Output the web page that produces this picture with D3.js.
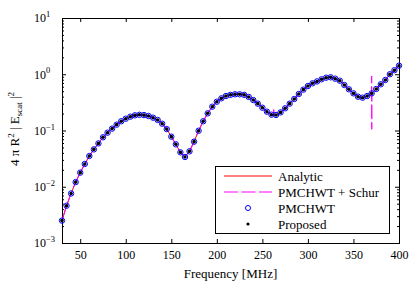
<!DOCTYPE html>
<html>
<head>
<meta charset="utf-8">
<script src="https://cdn.jsdelivr.net/npm/d3@7"></script>
<style>
  body { margin: 0; background: #fff; }
  text { font-family: "Liberation Serif", "Times New Roman", serif; fill: #000; }
</style>
</head>
<body>
<div id="chart"></div>
<script>
// frequency grid (MHz) where the solvers were sampled
const freq = [30, 35, 40, 45, 50, 55, 60, 65, 70, 75, 80, 85, 90, 95, 100, 105, 110, 115, 120,
  125, 130, 135, 140, 145, 150, 155, 160, 165, 170, 175, 180, 185, 190, 195, 200, 205, 210,
  215, 220, 225, 230, 235, 240, 245, 250, 255, 260, 265, 270, 275, 280, 285, 290, 295, 300,
  305, 310, 315, 320, 325, 330, 335, 340, 345, 350, 355, 360, 365, 370, 375, 380, 385, 390,
  395, 400];

// 4 pi R^2 |E_scat|^2 (all methods sit on top of each other)
const scatValues = [0.0025, 0.0046, 0.0076, 0.0121, 0.0178, 0.0254, 0.0352, 0.0462, 0.059, 0.0757,
  0.0914, 0.108, 0.127, 0.146, 0.162, 0.176, 0.186, 0.19, 0.188,
  0.181, 0.169, 0.154, 0.132, 0.106, 0.0777, 0.0568, 0.0409, 0.0338, 0.0427, 0.0633, 0.099,
  0.146, 0.202, 0.265, 0.325, 0.373, 0.41,
  0.43, 0.44, 0.44, 0.43, 0.395, 0.348, 0.30, 0.254, 0.216, 0.191, 0.189, 0.21, 0.248, 0.30,
  0.363, 0.446, 0.532, 0.618,
  0.69, 0.745, 0.813, 0.869, 0.883, 0.834, 0.768, 0.644, 0.54, 0.458, 0.399, 0.383, 0.41,
  0.458, 0.547, 0.663, 0.791, 1.0, 1.18, 1.42];

// PMCHWT + Schur deviates from the others only at a couple of resonances
const schurSpikes = [[262.4, 0.19], [262.5, 0.235], [262.6, 0.19],
  [369.9, 0.455], [370, 0.93], [370.1, 0.105], [370.2, 0.462]];

const xTicks = [50, 100, 150, 200, 250, 300, 350, 400];
const yTicks = [1e-3, 1e-2, 1e-1, 1, 10];
const yExponents = ["\u22123", "\u22122", "\u22121", "0", "1"];
const legendLabels = ["Analytic", "PMCHWT + Schur", "PMCHWT", "Proposed"];

const W = 415, H = 286;
const margin = { top: 18, right: 16, bottom: 43, left: 62 };
const width = W - margin.left - margin.right;
const height = H - margin.top - margin.bottom;

const svg = d3.select("#chart").append("svg")
  .attr("width", W)
  .attr("height", H);

const x = d3.scaleLinear().domain([30, 400]).range([0, width]);
const y = d3.scaleLog().domain([1e-3, 10]).range([height, 0]);

const g = svg.append("g")
  .attr("transform", `translate(${margin.left},${margin.top})`);

const pts = freq.map((f, i) => ({ f: f, v: scatValues[i] }));
const spikeF = new Set(schurSpikes.map(d => d[0]));
const schurPts = pts.filter(d => !spikeF.has(d.f))
  .concat(schurSpikes.map(d => ({ f: d[0], v: d[1] })))
  .sort((a, b) => a.f - b.f);

// minor log ticks 2..9 in each decade
const minor = [];
[1e-3, 1e-2, 1e-1, 1].forEach(dec => {
  for (let k = 2; k <= 9; k++) minor.push(dec * k);
});

// axes, ticks pointing inwards on all four sides
g.append("g")
  .attr("transform", `translate(0,${height})`)
  .call(d3.axisBottom(x).tickValues(xTicks).tickSizeInner(-4).tickSizeOuter(0).tickPadding(7))
  .call(a => a.select(".domain").remove())
  .call(a => a.selectAll("text").attr("font-size", 12).attr("font-family", null));

g.append("g")
  .call(d3.axisTop(x).tickValues(xTicks).tickSizeInner(-4).tickSizeOuter(0).tickFormat(""))
  .call(a => a.select(".domain").remove());

const yl = g.append("g")
  .call(d3.axisLeft(y).tickValues(yTicks).tickSizeInner(-4).tickSizeOuter(0).tickPadding(28))
  .call(a => a.select(".domain").remove());

yl.selectAll(".tick text")
  .attr("text-anchor", "start")
  .attr("font-size", 12)
  .attr("font-family", null)
  .each(function(d, i) {
    const t = d3.select(this);
    t.text(null);
    t.append("tspan").text("10");
    t.append("tspan").attr("dy", "-0.62em").attr("font-size", 8.5).text(yExponents[i]);
  });

g.append("g")
  .call(d3.axisLeft(y).tickValues(minor).tickSizeInner(-2).tickSizeOuter(0).tickFormat(""))
  .call(a => a.select(".domain").remove());

g.append("g")
  .attr("transform", `translate(${width},0)`)
  .call(d3.axisRight(y).tickValues(yTicks).tickSizeInner(-4).tickSizeOuter(0).tickFormat(""))
  .call(a => a.select(".domain").remove());

g.append("g")
  .attr("transform", `translate(${width},0)`)
  .call(d3.axisRight(y).tickValues(minor).tickSizeInner(-2).tickSizeOuter(0).tickFormat(""))
  .call(a => a.select(".domain").remove());

g.append("rect")
  .attr("x", 0.5)
  .attr("y", 0.5)
  .attr("width", width)
  .attr("height", height)
  .attr("fill", "none")
  .attr("stroke", "#000")
  .attr("stroke-width", 1);

// series
const line = d3.line().x(d => x(d.f)).y(d => y(d.v));

g.append("path")
  .datum(pts)
  .attr("fill", "none")
  .attr("stroke", "#ff0000")
  .attr("stroke-width", 1)
  .attr("d", line);

g.append("path")
  .datum(schurPts)
  .attr("fill", "none")
  .attr("stroke", "#ff00ff")
  .attr("stroke-width", 1)
  .attr("stroke-dasharray", "14,3.5")
  .attr("d", line);

g.append("g").selectAll("circle")
  .data(pts)
  .enter().append("circle")
    .attr("cx", d => x(d.f))
    .attr("cy", d => y(d.v))
    .attr("r", 2.7)
    .attr("fill", "none")
    .attr("stroke", "#0000ff")
    .attr("stroke-width", 1);

g.append("g").selectAll("circle")
  .data(pts)
  .enter().append("circle")
    .attr("cx", d => x(d.f))
    .attr("cy", d => y(d.v))
    .attr("r", 1.8)
    .attr("fill", "#000");

// axis labels
svg.append("text")
  .attr("x", margin.left + width / 2)
  .attr("y", 278)
  .attr("text-anchor", "middle")
  .attr("font-size", 13)
  .text("Frequency [MHz]");

const ylab = svg.append("text")
  .attr("transform", "translate(19,129) rotate(-90)")
  .attr("text-anchor", "middle")
  .attr("font-size", 13);
ylab.append("tspan").text("4 \u03c0 R");
ylab.append("tspan").attr("dy", -5).attr("font-size", 9).text("2");
ylab.append("tspan").attr("dy", 5).text(" | E");
ylab.append("tspan").attr("dy", 3).attr("font-size", 9).text("scat");
ylab.append("tspan").attr("dy", -3).text(" |");
ylab.append("tspan").attr("dy", -5).attr("font-size", 9).text("2");

// legend
const lg = svg.append("g").attr("transform", "translate(215,166)");
lg.append("rect")
  .attr("x", 0.5).attr("y", 0.5)
  .attr("width", 174).attr("height", 67)
  .attr("fill", "#fff")
  .attr("stroke", "#000");

const rowY = d3.scalePoint().domain(legendLabels).range([10, 58]);

lg.append("line")
  .attr("x1", 9).attr("x2", 57)
  .attr("y1", rowY(legendLabels[0])).attr("y2", rowY(legendLabels[0]))
  .attr("stroke", "#ff0000");
lg.append("line")
  .attr("x1", 9).attr("x2", 57)
  .attr("y1", rowY(legendLabels[1])).attr("y2", rowY(legendLabels[1]))
  .attr("stroke", "#ff00ff")
  .attr("stroke-dasharray", "14,3.5");
lg.append("circle")
  .attr("cx", 33).attr("cy", rowY(legendLabels[2]))
  .attr("r", 2.5).attr("fill", "none").attr("stroke", "#0000ff");
lg.append("circle")
  .attr("cx", 33).attr("cy", rowY(legendLabels[3]))
  .attr("r", 1.6).attr("fill", "#000");

lg.selectAll("text.lab")
  .data(legendLabels)
  .enter().append("text")
    .attr("class", "lab")
    .attr("x", 63)
    .attr("y", d => rowY(d) + 4.5)
    .attr("font-size", 13)
    .text(d => d);
</script>
</body>
</html>
